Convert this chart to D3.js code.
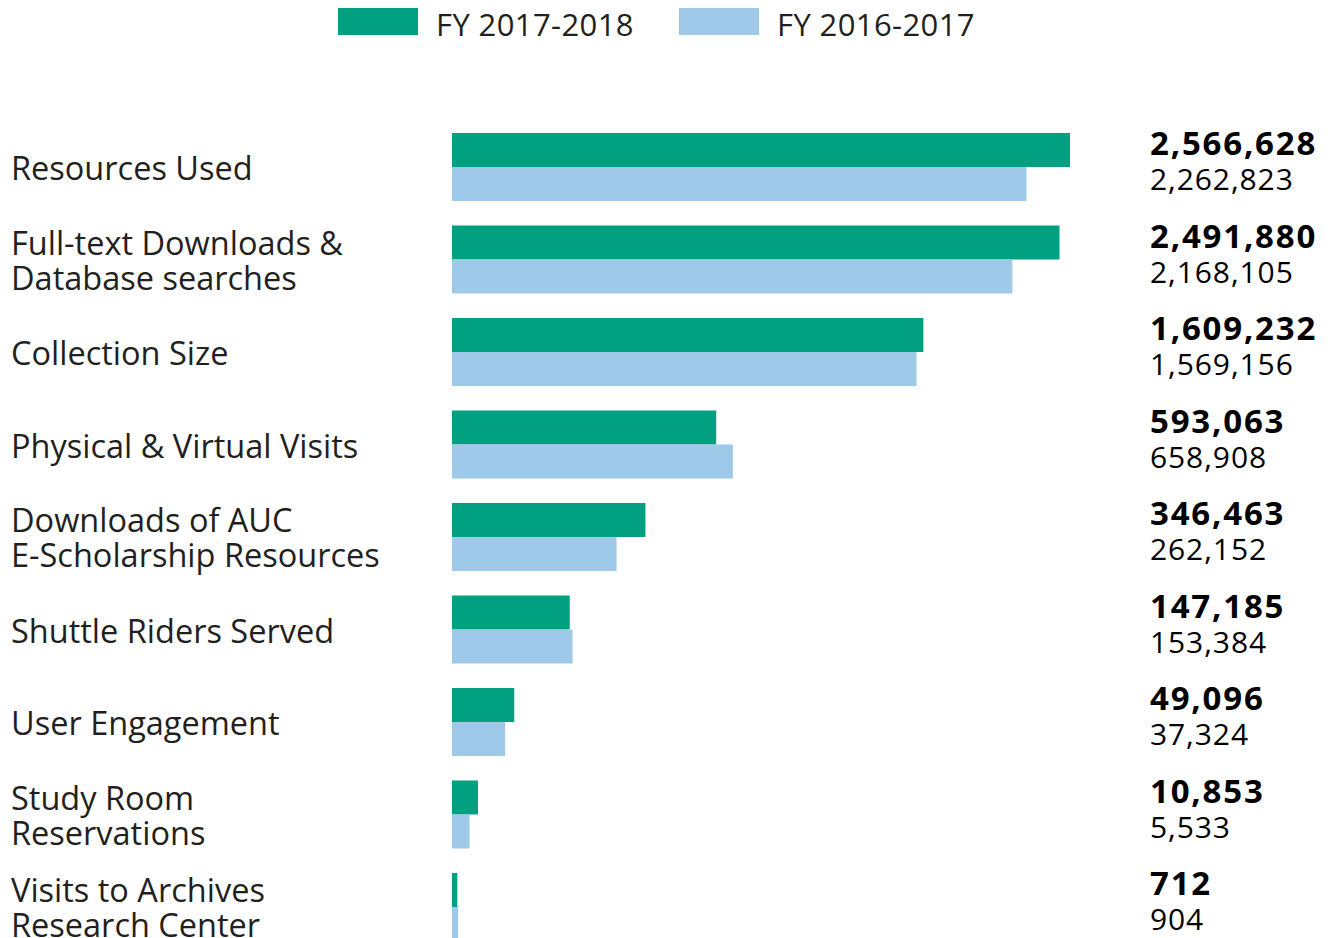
<!DOCTYPE html>
<html>
<head>
<meta charset="utf-8">
<script src="https://cdn.jsdelivr.net/npm/d3@7"></script>
<style>
  body { margin: 0; background: #fff; }
  text { font-family: "Open Sans", sans-serif; fill: #231f20; }
</style>
</head>
<body>
<script>
// data
const categories = [
    "Resources Used",
    "Full-text Downloads &\nDatabase searches",
    "Collection Size",
    "Physical & Virtual Visits",
    "Downloads of AUC\nE-Scholarship Resources",
    "Shuttle Riders Served",
    "User Engagement",
    "Study Room\nReservations",
    "Visits to Archives\nResearch Center"
];
const seriesNames = ["FY 2017-2018", "FY 2016-2017"];
const fy2018 = [2566628, 2491880, 1609232, 593063, 346463, 147185, 49096, 10853, 712];
const fy2017 = [2262823, 2168105, 1569156, 658908, 262152, 153384, 37324, 5533, 904];
const colors = ["#00a080", "#9ec9e8"];

const width = 1339, height = 938;

const svg = d3.select("body").append("svg")
    .attr("width", width)
    .attr("height", height);

const data = categories.map((c, i) => ({cat: c, values: [fy2018[i], fy2017[i]]}));

// bars are drawn on a compressed (power) scale, as in the original infographic
const x = d3.scalePow()
    .exponent(0.58)
    .domain([0, d3.max(fy2018.concat(fy2017))])
    .range([0, 618]);
const x0 = 452;

// one band per category
const y = d3.scaleBand()
    .domain(categories)
    .range([133, 133 + categories.length * 92.5])
    .paddingInner(0)
    .paddingOuter(0);

// two bars per band
const ySub = d3.scaleBand()
    .domain(seriesNames)
    .range([0, 68]);

// legend
const legend = svg.append("g");
const legendX = [338, 679];
seriesNames.forEach((s, i) => {
    legend.append("rect")
        .attr("x", legendX[i]).attr("y", 8)
        .attr("width", 80).attr("height", 27)
        .attr("fill", colors[i]);
    legend.append("text")
        .attr("x", legendX[i] + 98).attr("y", 36)
        .style("font-size", "31px")
        .style("letter-spacing", "0.4px")
        .text(s);
});

const groups = svg.selectAll("g.cat")
    .data(data)
    .enter()
    .append("g")
    .attr("class", "cat")
    .attr("transform", d => `translate(0,${y(d.cat)})`);

// bars
groups.selectAll("rect")
    .data(d => d.values.map((v, i) => ({v, s: seriesNames[i], i})))
    .enter()
    .append("rect")
    .attr("x", x0)
    .attr("y", d => ySub(d.s))
    .attr("width", d => Math.max(1.5, x(d.v)))
    .attr("height", ySub.bandwidth())
    .attr("fill", d => colors[d.i]);

// category labels
groups.each(function(d) {
    const lines = d.cat.split("\n");
    const t = d3.select(this).append("text")
        .attr("x", 11)
        .style("font-size", "32.5px");
    lines.forEach((l, k) => {
        const base = lines.length === 1 ? 47 : 29 + k * 35;
        t.append("tspan").attr("x", 11).attr("y", base).text(l);
    });
});

// value labels
const fmt = d3.format(",");
groups.append("text")
    .attr("x", 1150)
    .attr("y", 22)
    .style("font-size", "33px")
    .style("font-weight", "bold")
    .style("letter-spacing", "1.8px")
    .style("fill", "#000")
    .text(d => fmt(d.values[0]));

groups.append("text")
    .attr("x", 1150)
    .attr("y", 57)
    .style("font-size", "30px")
    .style("letter-spacing", "0.9px")
    .style("fill", "#000")
    .text(d => fmt(d.values[1]));
</script>
</body>
</html>
